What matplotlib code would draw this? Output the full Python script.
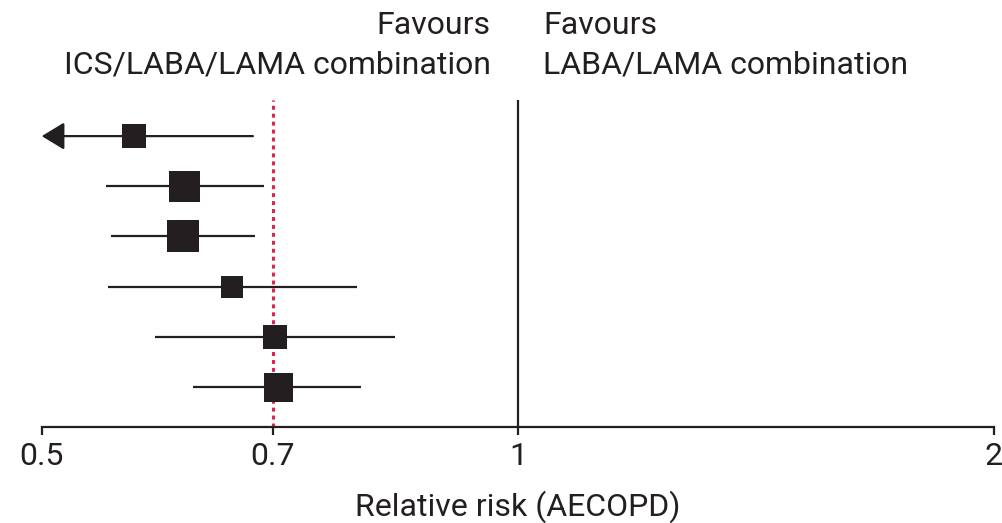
import matplotlib
matplotlib.use('Agg')
import matplotlib.pyplot as plt
import numpy as np

plt.rcParams['font.family'] = ['Roboto', 'DejaVu Sans']

# relative risk of AECOPD per study, top to bottom
estimate = [0.572, 0.615, 0.614, 0.660, 0.702, 0.705]
ci_low = [np.nan, 0.549, 0.553, 0.551, 0.590, 0.623]   # first study runs off the scale
ci_high = [0.680, 0.691, 0.682, 0.791, 0.836, 0.796]
weights = [24, 31, 32, 23, 24, 29]   # relative study weight (box size)

pooled = 0.70
ticks = [0.5, 0.7, 1, 2]
tick_labels = ['0.5', '0.7', '1', '2']

ink = '#231f20'
red = '#d7264f'

fig = plt.figure(figsize=(10.03, 5.23), dpi=100)
ax = fig.add_axes([0.0416, 0.1836, 0.9494, 0.6252])
ax.set_xscale('log')
ax.set_xlim(0.5, 2)
ax.set_ylim(6.8, 0.28)

ax.axvline(1, color=ink, lw=1.6, zorder=1)
ax.axvline(pooled, color=red, lw=2.2, ls=(0, (1.3, 1.3)), zorder=1)

for i, (est, lo, hi, w) in enumerate(zip(estimate, ci_low, ci_high, weights)):
    y = i + 1
    if np.isnan(lo):
        ax.annotate('', xy=(0.5, y), xytext=(hi, y),
                    arrowprops=dict(arrowstyle='-|>,head_length=14,head_width=8.5',
                                    mutation_scale=1, lw=1.6, color=ink,
                                    shrinkA=0, shrinkB=0),
                    annotation_clip=False, zorder=2)
    else:
        ax.plot([lo, hi], [y, y], color=ink, lw=1.6, solid_capstyle='butt', zorder=2)
    ax.plot(est, y, marker='s', ms=w * 0.72, color=ink, mec=ink, mew=0, zorder=3)

for side in ['left', 'right', 'top']:
    ax.spines[side].set_visible(False)
ax.spines['bottom'].set_linewidth(1.6)
ax.spines['bottom'].set_color(ink)
ax.set_yticks([])
ax.set_xticks(ticks)
ax.set_xticklabels(tick_labels)
ax.minorticks_off()
ax.tick_params(axis='x', length=6, width=1.6, color=ink, labelsize=23,
               labelcolor=ink, pad=5)
ax.set_xlabel('Relative risk (AECOPD)', fontsize=23, color=ink, labelpad=14)

fig.text(0.4895, 0.935, 'Favours', ha='right', va='baseline', fontsize=23, color=ink)
fig.text(0.4895, 0.859, 'ICS/LABA/LAMA combination', ha='right', va='baseline',
         fontsize=23, color=ink)
fig.text(0.5414, 0.935, 'Favours', ha='left', va='baseline', fontsize=23, color=ink)
fig.text(0.5414, 0.859, 'LABA/LAMA combination', ha='left', va='baseline',
         fontsize=23, color=ink)

fig.savefig('out.png', dpi=100)
